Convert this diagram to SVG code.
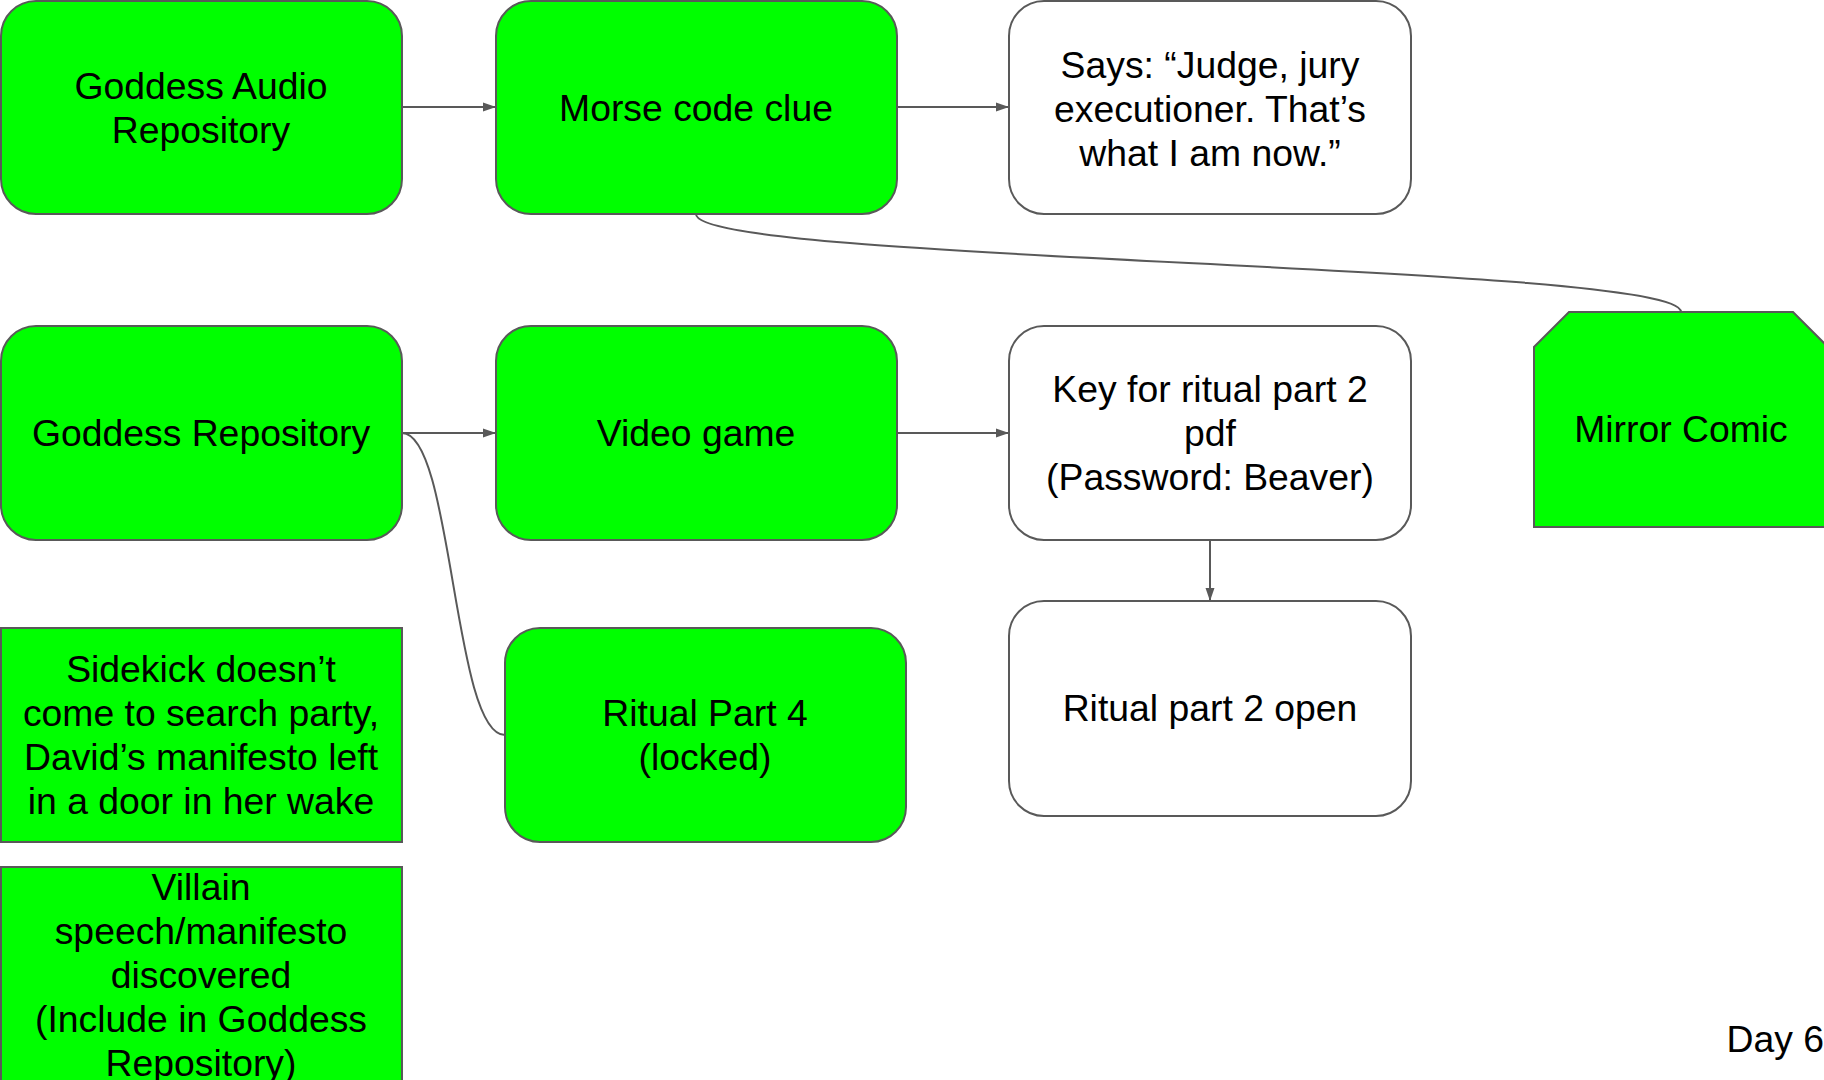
<svg xmlns="http://www.w3.org/2000/svg" width="1824" height="1080" viewBox="0 0 1824 1080">
<style>
.g{fill:#00ff00;stroke:#595959;stroke-width:2}
.w{fill:#ffffff;stroke:#595959;stroke-width:2}
text{font-family:"Liberation Sans",Arial,sans-serif;font-size:37.33px;fill:#000;text-anchor:middle}
.c{fill:none;stroke:#595959;stroke-width:2}
</style>
<defs>
<marker id="ah" markerWidth="14" markerHeight="10" refX="13" refY="5" orient="auto" markerUnits="userSpaceOnUse">
<path d="M0,0.5 L13,5 L0,9.5 Z" fill="#595959"/>
</marker>
</defs>
<rect width="1824" height="1080" fill="#ffffff"/>
<g id="connectors">
<path class="c" d="M402,107 H496" marker-end="url(#ah)"/>
<path class="c" d="M897,107 H1009" marker-end="url(#ah)"/>
<path class="c" d="M402,433 H496" marker-end="url(#ah)"/>
<path class="c" d="M897,433 H1009" marker-end="url(#ah)"/>
<path class="c" d="M1210,540 V601" marker-end="url(#ah)"/>
<path class="c" d="M696,214 C696,263 1681,263 1681,312"/>
<path class="c" d="M402,433 C453,433 453,735 505,735"/>
</g>
<g id="n-audio">
<rect class="g" x="1" y="1" width="401" height="213" rx="35"/>
<text x="201" y="99">Goddess Audio</text>
<text x="201" y="143">Repository</text>
</g>
<g id="n-morse">
<rect class="g" x="496" y="1" width="401" height="213" rx="35"/>
<text x="696" y="121">Morse code clue</text>
</g>
<g id="n-says">
<rect class="w" x="1009" y="1" width="402" height="213" rx="35"/>
<text x="1210" y="78">Says: “Judge, jury</text>
<text x="1210" y="122">executioner. That’s</text>
<text x="1210" y="166">what I am now.”</text>
</g>
<g id="n-repo">
<rect class="g" x="1" y="326" width="401" height="214" rx="35"/>
<text x="201" y="446">Goddess Repository</text>
</g>
<g id="n-video">
<rect class="g" x="496" y="326" width="401" height="214" rx="35"/>
<text x="696" y="446">Video game</text>
</g>
<g id="n-key">
<rect class="w" x="1009" y="326" width="402" height="214" rx="35"/>
<text x="1210" y="402">Key for ritual part 2</text>
<text x="1210" y="446">pdf</text>
<text x="1210" y="490">(Password: Beaver)</text>
</g>
<g id="n-mirror">
<path class="g" d="M1569,312 H1793 L1828,347 V527 H1534 V347 Z"/>
<text x="1681" y="442">Mirror Comic</text>
</g>
<g id="n-ritual2">
<rect class="w" x="1009" y="601" width="402" height="215" rx="35"/>
<text x="1210" y="721">Ritual part 2 open</text>
</g>
<g id="n-ritual4">
<rect class="g" x="505" y="628" width="401" height="214" rx="35"/>
<text x="705" y="726">Ritual Part 4</text>
<text x="705" y="770">(locked)</text>
</g>
<g id="n-sidekick">
<rect class="g" x="1" y="628" width="401" height="214"/>
<text x="201" y="682">Sidekick doesn’t</text>
<text x="201" y="726">come to search party,</text>
<text x="201" y="770">David’s manifesto left</text>
<text x="201" y="814">in a door in her wake</text>
</g>
<g id="n-villain">
<rect class="g" x="1" y="867" width="401" height="214"/>
<text x="201" y="900">Villain</text>
<text x="201" y="944">speech/manifesto</text>
<text x="201" y="988">discovered</text>
<text x="201" y="1032">(Include in Goddess</text>
<text x="201" y="1076">Repository)</text>
</g>
<g id="n-day">
<text x="1824" y="1052" style="text-anchor:end">Day 6</text>
</g>
</svg>
